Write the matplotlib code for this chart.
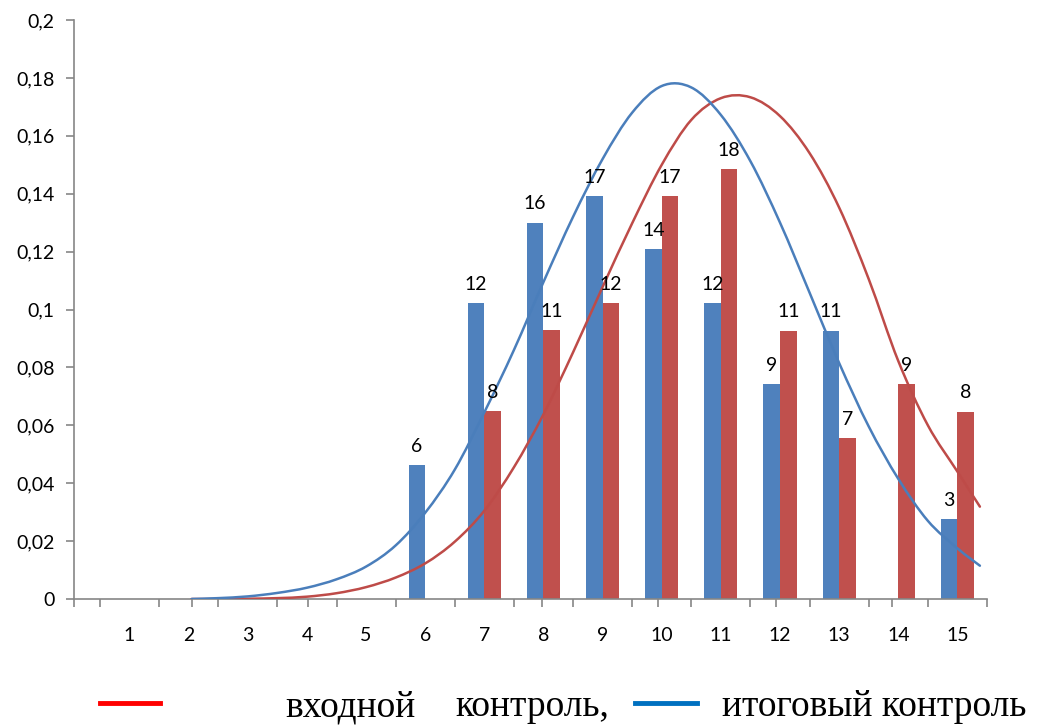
import matplotlib
matplotlib.use("Agg")
import matplotlib.pyplot as plt
from matplotlib.lines import Line2D
from matplotlib.path import Path
from matplotlib.patches import PathPatch
import numpy as np

# ---------------- data ----------------
categories = list(range(1, 16))
blue_height = [0, 0, 0, 0, 0, 0.0463, 0.1021, 0.1300, 0.1393, 0.1208, 0.1021, 0.0743, 0.0927, 0, 0.0276]
blue_labels = ["", "", "", "", "", "6", "12", "16", "17", "14", "12", "9", "11", "", "3"]
red_height = [0, 0, 0, 0, 0, 0, 0.0649, 0.0928, 0.1021, 0.1393, 0.1486, 0.0927, 0.0555, 0.0743, 0.0647]
red_labels = ["", "", "", "", "", "", "8", "11", "12", "17", "18", "11", "7", "9", "8"]

blue_curve_x = [2.05, 2.5, 3.0, 3.5, 4.0, 4.5, 5.0, 5.5, 6.0, 6.5, 7.0, 7.5, 8.0, 8.5, 9.0,
                9.5, 10.0, 10.5, 11.0, 11.5, 12.0, 12.5, 13.0, 13.5, 14.0, 14.5, 15.0, 15.38]
blue_curve_y = [0.0, 0.0003, 0.0009, 0.0021, 0.0039, 0.0068, 0.0112, 0.0185, 0.0298, 0.0447,
                0.0645, 0.0860, 0.1095, 0.1320, 0.1520, 0.1680, 0.1772, 0.1767, 0.1672, 0.1512,
                0.1300, 0.1058, 0.0815, 0.0596, 0.0415, 0.0270, 0.0175, 0.0115]
red_curve_x = [2.05, 2.5, 3.0, 3.5, 4.0, 4.5, 5.0, 5.5, 6.0, 6.5, 7.0, 7.5, 8.0, 8.5, 9.0,
               9.5, 10.0, 10.5, 11.0, 11.5, 12.0, 12.5, 13.0, 13.5, 14.0, 14.5, 15.0, 15.38]
red_curve_y = [0.0, 0.0, 0.0001, 0.0003, 0.0008, 0.0020, 0.0041, 0.0074, 0.0123, 0.0198,
               0.0305, 0.0455, 0.0638, 0.0852, 0.1078, 0.1298, 0.1500, 0.1655, 0.1730, 0.1733,
               0.1668, 0.1540, 0.1352, 0.1105, 0.0822, 0.0600, 0.0440, 0.0319]

y_ticks = [0, 0.02, 0.04, 0.06, 0.08, 0.1, 0.12, 0.14, 0.16, 0.18, 0.2]
y_tick_labels = ["0", "0,02", "0,04", "0,06", "0,08", "0,1", "0,12", "0,14", "0,16", "0,18", "0,2"]
line_axis_ticks = [0.061, 2.06, 4.02, 6.0, 7.97, 9.94, 11.94, 13.90]
legend_texts = ["входной", "контроль,", "итоговый контроль"]

# ---------------- style ----------------
BLUE = "#4F81BD"
RED = "#C0504D"
BLUE_LINE = "#4A7EBB"
RED_LINE = "#BE4B48"
AXIS = "#868686"
FONT = "Lato"
FS = 14

fig = plt.figure(figsize=(10.37, 7.25), dpi=100)
ax = fig.add_axes([74 / 1037, 1 - 599 / 725, (987 - 74) / 1037, (599 - 20) / 725])

x = np.array(categories, dtype=float)
bw = 0.28
ax.bar(x - bw / 2, blue_height, width=bw, color=BLUE, zorder=2)
ax.bar(x + bw / 2, red_height, width=bw, color=RED, zorder=2)

for xi, h, lab in zip(x, blue_height, blue_labels):
    if lab:
        ax.annotate(lab, (xi - bw / 2, h), xytext=(0, 9.5), textcoords="offset points",
                    ha="center", va="baseline", fontsize=FS, family=FONT, color="#000000",
                    zorder=4)
for xi, h, lab in zip(x, red_height, red_labels):
    if lab:
        ax.annotate(lab, (xi + bw / 2, h), xytext=(0, 9.5), textcoords="offset points",
                    ha="center", va="baseline", fontsize=FS, family=FONT, color="#000000",
                    zorder=4)


def smooth_path(xs, ys):
    """Catmull-Rom style Bezier path through the given points (drawn by matplotlib)."""
    P = np.column_stack([xs, ys]).astype(float)
    n = len(P)
    verts = [P[0]]
    codes = [Path.MOVETO]
    for i in range(n - 1):
        p0 = P[i - 1] if i > 0 else P[i]
        p1 = P[i]
        p2 = P[i + 1]
        p3 = P[i + 2] if i + 2 < n else P[i + 1]
        c1 = p1 + (p2 - p0) / 6.0
        c2 = p2 - (p3 - p1) / 6.0
        verts += [c1, c2, p2]
        codes += [Path.CURVE4] * 3
    return Path(verts, codes)


ax.add_patch(PathPatch(smooth_path(red_curve_x, red_curve_y), facecolor="none",
                       edgecolor=RED_LINE, lw=1.8, zorder=3, capstyle="round"))
ax.add_patch(PathPatch(smooth_path(blue_curve_x, blue_curve_y), facecolor="none",
                       edgecolor=BLUE_LINE, lw=1.8, zorder=3, capstyle="round"))

x_left = 1 + (74 - 129.5) / 59.13
x_right = 15.5
ax.set_xlim(x_left, x_right)
ax.set_ylim(0, 0.2)

for s in ["top", "right"]:
    ax.spines[s].set_visible(False)
for s in ["left", "bottom"]:
    ax.spines[s].set_color(AXIS)
    ax.spines[s].set_linewidth(1.2)

ax.set_yticks(y_ticks)
ax.set_yticklabels(y_tick_labels, family=FONT, fontsize=FS)
ax.tick_params(axis="y", direction="out", length=6, width=1.2, color=AXIS, pad=8)

ax.set_xticks(x)
ax.set_xticklabels([str(c) for c in categories], family=FONT, fontsize=FS)
ax.tick_params(axis="x", which="major", length=0, pad=20)
minor = sorted(set([c - 0.5 for c in categories] + [15.5] + line_axis_ticks))
ax.set_xticks(minor, minor=True)
ax.tick_params(axis="x", which="minor", direction="out", length=6, width=1.2, color=AXIS)

# legend (drawn as figure text)
fig.add_artist(Line2D([100 / 1037, 160 / 1037], [1 - 703 / 725] * 2, color="#FF0000", lw=3.5))
fig.add_artist(Line2D([635 / 1037, 697 / 1037], [1 - 703 / 725] * 2, color="#0070C0", lw=3.5))
LFS = 27
fig.text(285 / 1037, 1 - 707 / 725, legend_texts[0], family="Liberation Serif", fontsize=LFS,
         va="center", ha="left")
fig.text(455 / 1037, 1 - 707 / 725, legend_texts[1], family="Liberation Serif", fontsize=LFS,
         va="center", ha="left")
fig.text(722 / 1037, 1 - 707 / 725, legend_texts[2], family="Liberation Serif", fontsize=LFS,
         va="center", ha="left")

fig.savefig("out.png", dpi=100)
